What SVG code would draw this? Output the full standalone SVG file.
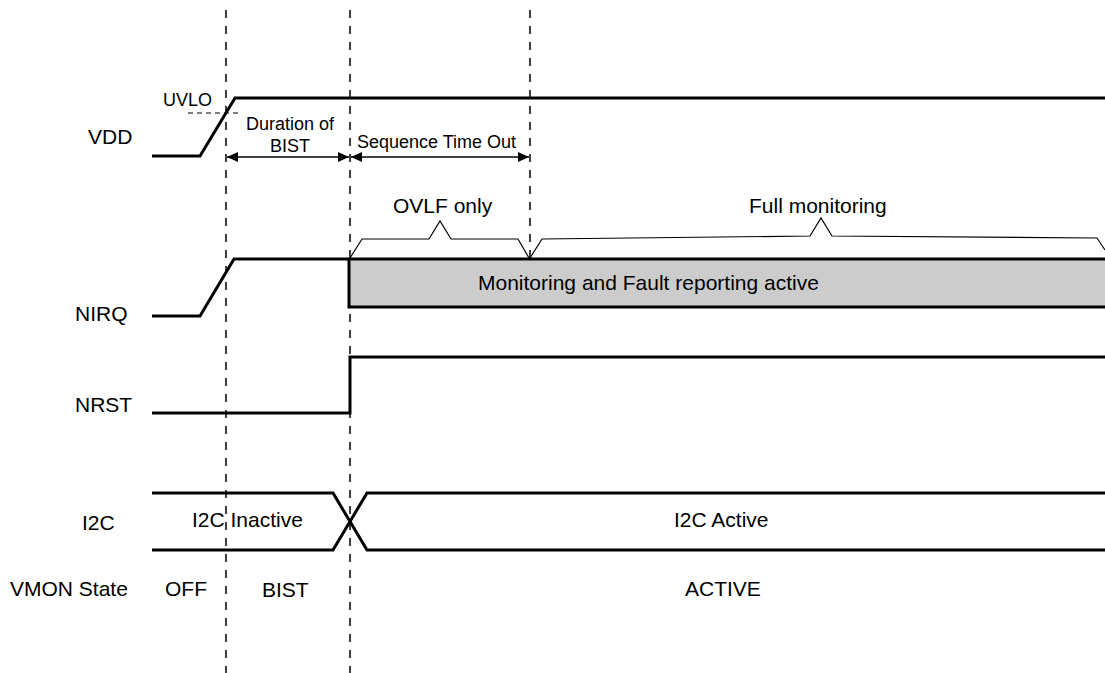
<svg xmlns="http://www.w3.org/2000/svg" width="1105" height="673" viewBox="0 0 1105 673">
<defs>
<style>
.t{font-family:"Liberation Sans",Arial,sans-serif;font-size:21px;fill:#000}
.s{font-family:"Liberation Sans",Arial,sans-serif;font-size:18px;fill:#000}
.sig{fill:none;stroke:#000;stroke-width:3;stroke-linejoin:miter}
.dash{fill:none;stroke:#000;stroke-width:1.5;stroke-dasharray:8 8}
.brace{fill:none;stroke:#000;stroke-width:1.2}
.dim{fill:none;stroke:#000;stroke-width:1.5}
</style>
<marker id="ah" viewBox="0 0 11 11" refX="11" refY="5.5" markerWidth="11" markerHeight="11" markerUnits="userSpaceOnUse" orient="auto-start-reverse">
<path d="M0,0.5 L11,5.5 L0,10.5 Z" fill="#000"/>
</marker>
</defs>
<rect width="1105" height="673" fill="#fff"/>

<g id="guides">
<line class="dash" x1="226" y1="10" x2="226" y2="673"/>
<line class="dash" x1="350" y1="10" x2="350" y2="673"/>
<line class="dash" x1="530" y1="10" x2="530" y2="262"/>
</g>

<g id="labels">
<text class="t" x="88" y="144">VDD</text>
<text class="t" x="75" y="321">NIRQ</text>
<text class="t" x="75" y="412">NRST</text>
<text class="t" x="82" y="530">I2C</text>
<text class="t" x="10" y="596">VMON State</text>
</g>

<g id="vdd">
<polyline class="sig" points="152,156 200,156 235,98 1105,98"/>
<line x1="188" y1="113" x2="238" y2="113" stroke="#000" stroke-width="1.2" stroke-dasharray="5 4"/>
<text class="s" x="163" y="106">UVLO</text>
</g>

<g id="connectors">
<line class="dim" x1="227" y1="157" x2="349" y2="157" marker-start="url(#ah)" marker-end="url(#ah)"/>
<line class="dim" x1="351" y1="157" x2="529" y2="157" marker-start="url(#ah)" marker-end="url(#ah)"/>
<polyline class="brace" points="350,258 362,239 429,239 440,221 451,239 518,239 529,258"/>
<polyline class="brace" points="530,258 542,239 810,236 821,218 832,236 1097,238 1105,250"/>
</g>

<g id="bist-duration">
<text class="s" x="290" y="130" text-anchor="middle">Duration of</text>
<text class="s" x="290" y="152" text-anchor="middle">BIST</text>
</g>
<g id="sequence-timeout">
<text class="s" x="357" y="148">Sequence Time Out</text>
</g>
<g id="ovlf-only">
<text class="t" x="393" y="213">OVLF only</text>
</g>
<g id="full-monitoring">
<text class="t" x="749" y="213">Full monitoring</text>
</g>

<g id="nirq">
<rect x="349" y="259" width="760" height="48" fill="#cccccc"/>
<polyline class="sig" points="152,316 200,316 234,259 1105,259"/>
<polyline class="sig" points="349,259 349,307 1105,307"/>
<text class="t" x="478" y="290">Monitoring and Fault reporting active</text>
</g>

<g id="nrst">
<polyline class="sig" points="152,413 350,413 350,357 1105,357"/>
</g>

<g id="i2c">
<polyline class="sig" points="152,493 333,493 367,550 1105,550"/>
<polyline class="sig" points="152,550 333,550 367,493 1105,493"/>
<text class="t" x="192" y="527">I2C Inactive</text>
<text class="t" x="674" y="527">I2C Active</text>
</g>

<g id="vmon-state">
<text class="t" x="165" y="596">OFF</text>
<text class="t" x="262" y="597">BIST</text>
<text class="t" x="685" y="596">ACTIVE</text>
</g>
</svg>
